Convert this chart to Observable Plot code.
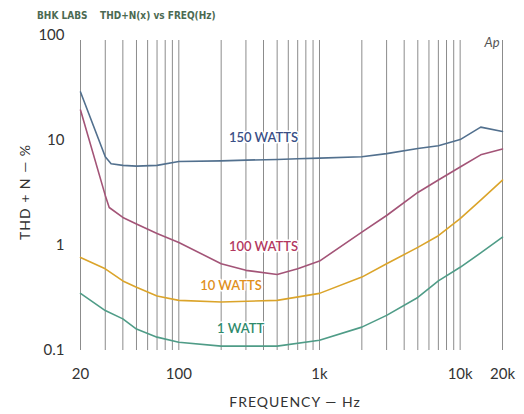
<!DOCTYPE html>
<html><head><meta charset="utf-8">
<script src="https://cdn.jsdelivr.net/npm/d3@7"></script>
<script src="https://cdn.jsdelivr.net/npm/@observablehq/plot@0.6"></script>
<style>body{margin:0;background:#fff;} #c{position:relative;width:524px;height:414px;}</style>
</head><body><div id="c"></div>
<script>
const freq150 = [20, 30, 33, 40, 50, 70, 100, 200, 300, 500, 700, 1000, 2000, 3000, 5000, 7000, 10000, 14000, 20000];
const w150 =    [29, 7.0, 6.0, 5.8, 5.7, 5.8, 6.3, 6.4, 6.5, 6.6, 6.7, 6.8, 7.0, 7.5, 8.4, 8.9, 10.2, 13.4, 12.2];
const freq100 = [20, 30, 32, 40, 50, 70, 100, 200, 300, 500, 700, 1000, 2000, 3000, 5000, 7000, 10000, 14000, 20000];
const w100 =    [19.5, 3.0, 2.3, 1.85, 1.6, 1.3, 1.07, 0.67, 0.58, 0.53, 0.6, 0.71, 1.34, 1.93, 3.2, 4.2, 5.6, 7.3, 8.3];
const freqLow = [20, 30, 40, 50, 70, 100, 200, 500, 1000, 2000, 3000, 5000, 7000, 10000, 14000, 20000];
const w10 =     [0.77, 0.60, 0.46, 0.40, 0.33, 0.30, 0.29, 0.30, 0.35, 0.50, 0.67, 0.96, 1.24, 1.8, 2.7, 4.2];
const w1 =      [0.35, 0.24, 0.20, 0.16, 0.134, 0.12, 0.11, 0.11, 0.125, 0.167, 0.216, 0.32, 0.46, 0.62, 0.85, 1.2];

const seriesNames = ["150 WATTS", "100 WATTS", "10 WATTS", "1 WATT"];
const seriesColors = ["#52708e", "#a35477", "#dba42a", "#4f9c87"];
const labelColors = ["#3a4f86", "#b3385f", "#e0901c", "#2f8a6c"];
const labelFreq = [400, 400, 235, 275];
const labelVal = [10.6, 0.98, 0.41, 0.16];

const xTicks = [20, 100, 1000, 10000, 20000];
const xTickLabels = ["20", "100", "1k", "10k", "20k"];
const yTicks = [0.1, 1, 10, 100];
const yTickLabels = ["0.1", "1", "10", "100"];

const gridX = [];
for (const d of [10, 100, 1000, 10000]) for (let k = 1; k <= 9; k++) { const v = k * d; if (v >= 20 && v <= 20000) gridX.push(v); }
gridX.push(20000);

const rows = [];
freq150.forEach((f, i) => rows.push({s: seriesNames[0], f, v: w150[i]}));
freq100.forEach((f, i) => rows.push({s: seriesNames[1], f, v: w100[i]}));
freqLow.forEach((f, i) => rows.push({s: seriesNames[2], f, v: w10[i]}));
freqLow.forEach((f, i) => rows.push({s: seriesNames[3], f, v: w1[i]}));
const labels = seriesNames.map((s, i) => ({s, f: labelFreq[i], v: labelVal[i], c: labelColors[i]}));

const chart = Plot.plot({
  width: 524, height: 414,
  marginLeft: 80, marginRight: 22, marginTop: 35, marginBottom: 64,
  style: {fontFamily: "Lato, 'Open Sans', sans-serif", background: "#fff"},
  x: {type: "log", domain: [20, 20000], label: null},
  y: {type: "log", domain: [0.1, 100], label: null},
  color: {domain: seriesNames, range: seriesColors},
  marks: [
    Plot.ruleX(gridX, {stroke: "#8c8c8c", strokeWidth: 1, y1: 0.1, y2: 100, insetBottom: -5}),
    Plot.line(rows, {x: "f", y: "v", z: "s", stroke: "s", strokeWidth: 1.6, curve: "linear"}),
    Plot.text(labels, {x: "f", y: "v", text: "s", fill: "c", fontSize: 13, fontWeight: 600, stroke: "#fff", strokeWidth: 3, paintOrder: "stroke"}),
    Plot.axisX({ticks: xTicks, tickFormat: (d) => xTickLabels[xTicks.indexOf(d)], tickSize: 0, tickPadding: 18, fontSize: 15, fill: "#333", label: null}),
    Plot.axisY({ticks: yTicks, tickFormat: (d) => yTickLabels[yTicks.indexOf(d)], tickSize: 0, tickPadding: 16, fontSize: 15, fill: "#333", label: null})
  ]
});
const c = document.getElementById("c");
c.appendChild(chart);
const svg = d3.select(chart);
svg.append("text").attr("x", 37).attr("y", 19).attr("font-size", 10).attr("font-weight", 700)
  .attr("text-anchor", "start").attr("xml:space", "preserve").style("white-space", "pre")
  .attr("font-family", "'DejaVu Sans Condensed','DejaVu Sans',sans-serif").attr("fill", "#4b6a52")
  .text("BHK LABS    THD+N(x) vs FREQ(Hz)");
svg.append("text").attr("x", 492).attr("y", 47).attr("font-size", 13).attr("font-style", "italic")
  .attr("text-anchor", "middle").attr("fill", "#555").text("Ap");
svg.append("text").attr("transform", "translate(30,192) rotate(-90)").attr("text-anchor", "middle")
  .attr("font-size", 14).attr("fill", "#333").attr("font-family", "Lato, sans-serif").attr("letter-spacing", 1).text("THD + N — %");
svg.append("text").attr("x", 295).attr("y", 407).attr("text-anchor", "middle")
  .attr("font-size", 14).attr("fill", "#333").attr("font-family", "Lato, sans-serif").attr("letter-spacing", 1).text("FREQUENCY — Hz");
</script></body></html>
